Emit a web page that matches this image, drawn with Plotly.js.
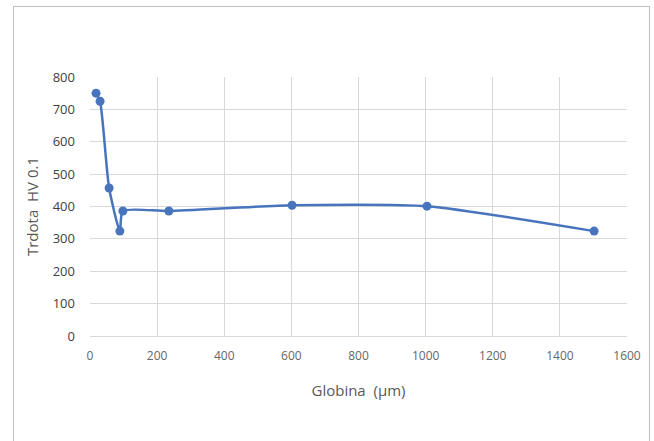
<!DOCTYPE html>
<html><head><meta charset="utf-8">
<script src="https://cdn.plot.ly/plotly-3.0.1.min.js"></script>
<style>
html,body{margin:0;padding:0;background:#fff;}
#frame{position:absolute;left:13px;top:6px;width:637px;height:450px;border:1px solid #bfbfbf;box-sizing:border-box;}
#chart{position:absolute;left:0;top:0;width:654px;height:441px;}
</style>
</head><body>
<div id="frame"></div>
<div id="chart"></div>
<script>
const depth = [18, 30, 57, 89, 98, 235, 602, 1004, 1502];
const hardness = [750, 725, 457, 324, 386, 386, 404, 401, 324];
const xTicks = [0, 200, 400, 600, 800, 1000, 1200, 1400, 1600];
const yTicks = [0, 100, 200, 300, 400, 500, 600, 700, 800];

const trace = {
  x: depth, y: hardness, type: 'scatter', mode: 'lines+markers',
  line: {color: '#4874bd', width: 2.5, shape: 'spline', smoothing: 0.6},
  marker: {color: '#4874bd', size: 9},
  hoverinfo: 'skip'
};
const layout = {
  width: 654, height: 441,
  paper_bgcolor: 'rgba(0,0,0,0)', plot_bgcolor: 'rgba(0,0,0,0)',
  margin: {l: 90, r: 27, t: 77, b: 105},
  showlegend: false,
  font: {family: 'Open Sans, sans-serif', color: '#595959'},
  xaxis: {
    range: [0, 1600], tickvals: xTicks, ticktext: xTicks.map(String),
    showgrid: true, gridcolor: '#d9d9d9', gridwidth: 1,
    zeroline: false, showline: true, linecolor: '#d9d9d9',
    ticks: '', ticklen: 0, ticklabelstandoff: 9,
    tickfont: {size: 12, color: '#666666'},
    title: {text: 'Globina  (µm)', font: {size: 15, color: '#595959'}, standoff: 22}
  },
  yaxis: {
    range: [0, 800], tickvals: yTicks, ticktext: yTicks.map(String),
    showgrid: true, gridcolor: '#d9d9d9', gridwidth: 1,
    zeroline: false, showline: false,
    ticks: '', ticklabelstandoff: 14,
    tickfont: {size: 13, color: '#404040'},
    title: {text: 'Trdota  HV 0.1', font: {size: 15, color: '#595959'}, standoff: 10}
  }
};
Plotly.newPlot('chart', [trace], layout, {displayModeBar: false, staticPlot: true});
</script>
</body></html>
